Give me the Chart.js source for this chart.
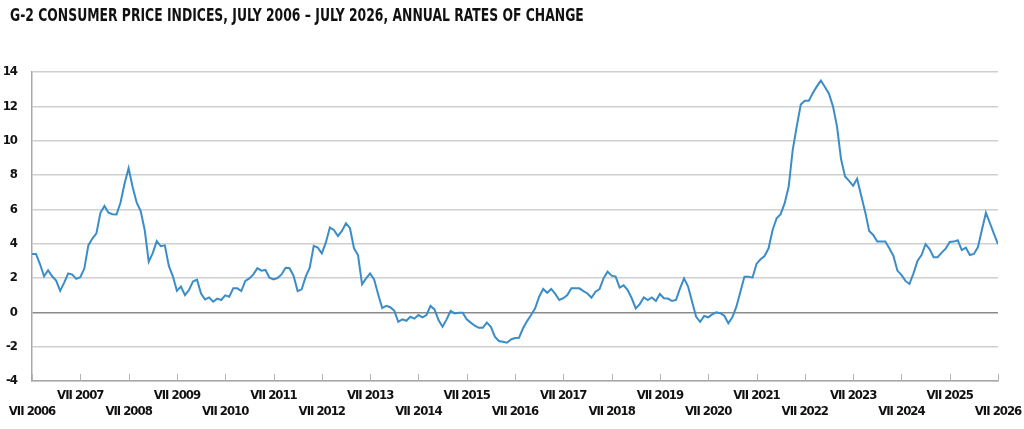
<!DOCTYPE html>
<html>
<head>
<meta charset="utf-8">
<script src="https://cdn.jsdelivr.net/npm/chart.js@4"></script>
<style>
  body { margin: 0; background: #fff; }
  #wrap { width: 1024px; height: 429px; position: relative; }
  #title {
    position: absolute; left: 10px; top: 7px; margin: 0;
    font-family: 'DejaVu Sans Condensed', sans-serif; font-weight: bold;
    font-size: 17px; line-height: 17px; color: #111; white-space: nowrap;
    transform: scaleX(0.81); transform-origin: 0 0;
  }
</style>
</head>
<body>
<div id="wrap">
  <div id="title">G-2 CONSUMER PRICE INDICES, JULY 2006 – JULY 2026, ANNUAL RATES OF CHANGE</div>
  <canvas id="myChart"></canvas>
</div>
<script>
// G-2 CPI, annual rates of change, monthly from July 2006 to July 2026
const startMonth = 'VII';
const tickYears = [2006, 2007, 2008, 2009, 2010, 2011, 2012, 2013, 2014, 2015, 2016,
  2017, 2018, 2019, 2020, 2021, 2022, 2023, 2024, 2025, 2026];
const yTicks = [-4, -2, 0, 2, 4, 6, 8, 10, 12, 14];

// one row = 12 months starting each July
const cpi = [
  3.4, 3.4, 2.8, 2.1, 2.45, 2.1, 1.85, 1.25, 1.73, 2.27, 2.2, 1.95,
  2.05, 2.55, 3.9, 4.3, 4.6, 5.8, 6.2, 5.8, 5.72, 5.7, 6.4, 7.5,
  8.4, 7.3, 6.4, 5.9, 4.8, 2.95, 3.45, 4.15, 3.85, 3.9, 2.7, 2.1,
  1.25, 1.5, 1.0, 1.3, 1.8, 1.9, 1.1, 0.75, 0.87, 0.62, 0.8, 0.72,
  0.99, 0.91, 1.4, 1.4, 1.24, 1.83, 1.98, 2.21, 2.57, 2.43, 2.47, 2.02,
  1.92, 2.0, 2.21, 2.6, 2.57, 2.12, 1.24, 1.34, 2.08, 2.6, 3.87, 3.77,
  3.44, 4.06, 4.94, 4.8, 4.45, 4.74, 5.19, 4.9, 3.73, 3.34, 1.63, 1.98,
  2.27, 1.92, 1.05, 0.25, 0.38, 0.3, 0.1, -0.55, -0.41, -0.49, -0.26, -0.37,
  -0.16, -0.29, -0.16, 0.37, 0.17, -0.45, -0.84, -0.41, 0.08, -0.06, -0.02, -0.02,
  -0.41, -0.6, -0.78, -0.9, -0.9, -0.6, -0.84, -1.42, -1.67, -1.71, -1.77, -1.58,
  -1.5, -1.48, -0.93, -0.51, -0.16, 0.23, 0.91, 1.36, 1.14, 1.36, 1.07, 0.72,
  0.82, 1.01, 1.4, 1.4, 1.4, 1.24, 1.1, 0.85, 1.2, 1.36, 1.98, 2.37,
  2.14, 2.08, 1.44, 1.57, 1.3, 0.82, 0.23, 0.48, 0.87, 0.72, 0.87, 0.66,
  1.07, 0.82, 0.8, 0.66, 0.72, 1.4, 1.98, 1.5, 0.62, -0.26, -0.55, -0.21,
  -0.29, -0.12, 0.0, -0.05, -0.2, -0.64, -0.29, 0.33, 1.2, 2.08, 2.08, 2.02,
  2.82, 3.09, 3.28, 3.73, 4.8, 5.48, 5.72, 6.36, 7.33, 9.47, 10.83, 12.1,
  12.33, 12.33, 12.78, 13.16, 13.5, 13.13, 12.74, 12.0, 10.83, 8.93, 7.91, 7.66,
  7.37, 7.78, 6.8, 5.85, 4.74, 4.51, 4.12, 4.12, 4.12, 3.73, 3.3, 2.43,
  2.18, 1.83, 1.65, 2.27, 2.99, 3.34, 3.97, 3.68, 3.21, 3.21, 3.48, 3.71,
  4.1, 4.12, 4.2, 3.63, 3.77, 3.34, 3.4, 3.79, 4.8, 5.81, 5.19, 4.57,
  3.97
];

const points = cpi.map((v, i) => ({ x: i, y: v }));
const font = "'DejaVu Sans Condensed', sans-serif";

// tighter letters so the labels look like the condensed original
const tightText = {
  id: 'tightText',
  beforeDraw(chart) { chart.ctx.letterSpacing = '-1px'; }
};

// small tick marks pointing up from the bottom axis
const innerTicks = {
  id: 'innerTicks',
  afterDatasetsDraw(chart) {
    const xs = chart.scales.x;
    const ctx = chart.ctx;
    const bottom = chart.chartArea.bottom;
    ctx.save();
    ctx.strokeStyle = '#b4b4b4';
    ctx.lineWidth = 1;
    xs.ticks.forEach(t => {
      const px = Math.round(xs.getPixelForValue(t.value)) + 0.5;
      ctx.beginPath();
      ctx.moveTo(px, bottom);
      ctx.lineTo(px, bottom - 7);
      ctx.stroke();
    });
    ctx.restore();
  }
};

const ctx = document.getElementById('myChart').getContext('2d');
const myChart = new Chart(ctx, {
  type: 'line',
  data: {
    datasets: [{
      data: points,
      borderColor: '#3b8dc8',
      borderWidth: 2,
      pointRadius: 0,
      tension: 0,
      fill: false
    }]
  },
  options: {
    responsive: true,
    maintainAspectRatio: false,
    animation: false,
    layout: { padding: { left: 0, right: 26, top: 72, bottom: 0 } },
    plugins: {
      legend: { display: false },
      tooltip: { enabled: false },
      title: { display: false }
    },
    scales: {
      x: {
        type: 'linear',
        min: 0,
        max: 240,
        grid: { display: false, drawTicks: false },
        border: { display: true, color: '#a8a8a8', width: 1.5 },
        afterBuildTicks: (scale) => {
          scale.ticks = tickYears.map((y, i) => ({ value: i * 12 }));
        },
        afterFit: (scale) => {
          scale.height = 48;
          scale.paddingLeft = 0;
          scale.paddingRight = 0;
        },
        ticks: {
          autoSkip: false,
          maxRotation: 0,
          padding: 6,
          color: '#111',
          font: { family: font, size: 13, weight: 'bold', lineHeight: 1.26 },
          callback: (v) => {
            const i = Math.round(v / 12);
            const txt = startMonth + ' ' + tickYears[i];
            return (i % 2 === 1) ? [txt, ''] : ['', txt];
          }
        }
      },
      y: {
        min: -4,
        max: 14,
        afterBuildTicks: (scale) => {
          scale.ticks = yTicks.map(v => ({ value: v }));
        },
        afterFit: (scale) => { scale.width = 32; },
        grid: {
          drawTicks: false,
          lineWidth: 1.5,
          color: (c) => (c.tick && c.tick.value === 0) ? '#8a8a8a' : '#cfcfcf'
        },
        border: { display: true, color: '#a8a8a8', width: 1.5 },
        ticks: {
          padding: 15,
          color: '#111',
          font: { family: font, size: 13, weight: 'bold' }
        }
      }
    }
  },
  plugins: [tightText, innerTicks]
});
</script>
</body>
</html>
